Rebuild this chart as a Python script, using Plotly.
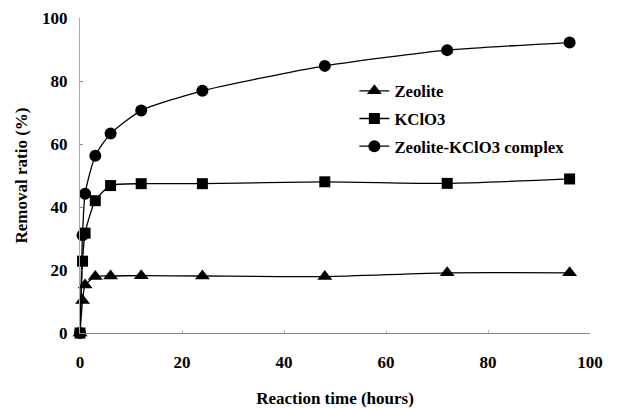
import plotly.graph_objects as go

hours_zeolite = [0, 0.5, 1, 3, 6, 12, 24, 48, 72, 96]
zeolite = [0, 10.3, 15.2, 17.9, 18.1, 18.2, 18.1, 17.9, 19.1, 19.1]

hours_kclo3 = [0, 0.5, 1, 3, 6, 12, 24, 48, 72, 96]
kclo3 = [0, 22.8, 31.7, 42.0, 46.8, 47.4, 47.4, 48.0, 47.5, 48.9]

hours_complex = [0, 0.5, 1, 3, 6, 12, 24, 48, 72, 96]
complex_ = [0, 31.0, 44.2, 56.3, 63.3, 70.6, 76.9, 84.8, 89.8, 92.2]

x_ticks = [0, 20, 40, 60, 80, 100]
y_ticks = [0, 20, 40, 60, 80, 100]

FONT = "'Liberation Serif', 'Times New Roman', 'DejaVu Serif', serif"

fig = go.Figure()
series = [
    ("Zeolite", hours_zeolite, zeolite, "triangle-up", 13),
    ("KClO3", hours_kclo3, kclo3, "square", 11),
    ("Zeolite-KClO3 complex", hours_complex, complex_, "circle", 12),
]
for i, (name, xs, ys, sym, sz) in enumerate(series):
    fig.add_trace(go.Scatter(
        x=xs, y=ys, name=name, mode="lines+markers",
        line=dict(color="black", width=1.3, shape="spline", smoothing=0.6),
        marker=dict(symbol=sym, size=sz, color="black"),
        cliponaxis=False, legendgroup=f"g{i}",
    ))

# the page adds an 8px body margin, so the figure is 610x400 and offset by it
fig.update_layout(
    width=610, height=400,
    margin=dict(l=72, r=28, t=10, b=75, autoexpand=False),
    paper_bgcolor="white", plot_bgcolor="white",
    font=dict(family=FONT, size=16, color="black", weight="bold"),
    showlegend=True,
    legend=dict(
        x=0.538, y=0.824, xanchor="left", yanchor="top",
        bgcolor="rgba(0,0,0,0)", borderwidth=0,
        font=dict(family=FONT, size=16.7, color="black", weight="bold"),
        tracegroupgap=3, itemwidth=30,
    ),
    xaxis=dict(
        range=[0, 100], tickvals=x_ticks, ticktext=[str(v) for v in x_ticks],
        showgrid=False, zeroline=False, automargin=False,
        showline=True, linecolor="#888888", linewidth=1,
        ticks="inside", ticklen=3, tickcolor="#bbbbbb",
        ticklabelstandoff=14,
        tickfont=dict(family=FONT, size=17, color="black", weight="bold"),
        title=dict(text="Reaction time (hours)", standoff=25,
                   font=dict(family=FONT, size=17, color="black", weight="bold")),
    ),
    yaxis=dict(
        range=[0, 100], tickvals=y_ticks, ticktext=[str(v) for v in y_ticks],
        showgrid=False, zeroline=False, automargin=False,
        showline=True, linecolor="#aaaaaa", linewidth=1,
        ticks="inside", ticklen=3, tickcolor="#888888",
        ticklabelstandoff=8,
        tickfont=dict(family=FONT, size=17, color="black", weight="bold"),
        title=dict(text="Removal ratio (%)", standoff=10,
                   font=dict(family=FONT, size=17, color="black", weight="bold")),
    ),
)

fig.write_html("out.html")
